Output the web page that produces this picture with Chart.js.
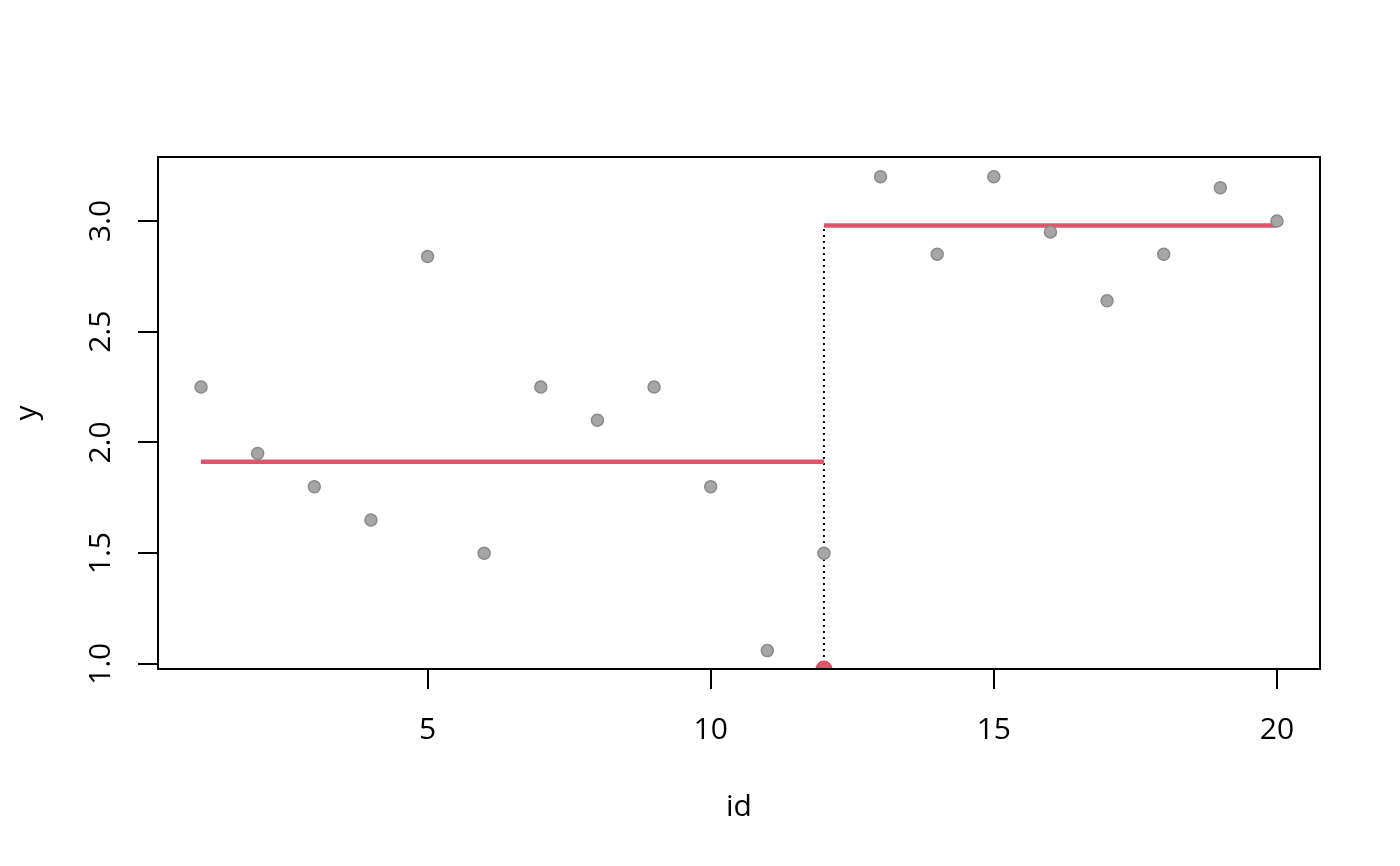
<!DOCTYPE html>
<html>
<head>
<meta charset="utf-8">
<script src="https://cdn.jsdelivr.net/npm/chart.js@4"></script>
<style>
  html, body { margin: 0; padding: 0; background: #fff; }
</style>
</head>
<body>
<canvas id="chart" width="1400" height="866"></canvas>
<script>
// observations
var ids = [1, 2, 3, 4, 5, 6, 7, 8, 9, 10, 11, 12, 13, 14, 15, 16, 17, 18, 19, 20];
var yValues = [2.25, 1.95, 1.80, 1.65, 2.84, 1.50, 2.25, 2.10, 2.25, 1.80,
               1.06, 1.50, 3.20, 2.85, 3.20, 2.95, 2.64, 2.85, 3.15, 3.00];

// fitted segments and change point
var changePoint = 12;
var segmentStarts = [1, 12];
var segmentEnds = [12, 20];
var segmentMeans = [1.9125, 2.98];

var xTicks = [5, 10, 15, 20];
var yTicks = [1.0, 1.5, 2.0, 2.5, 3.0];
var xRange = [0.24, 20.76];
var yRange = [0.977, 3.289];

var red = '#DF536B';
var font = '"Open Sans", "Noto Sans", sans-serif';

var points = ids.map(function(id, i) { return {x: id, y: yValues[i]}; });

var segmentSets = segmentMeans.map(function(m, i) {
  return {
    type: 'line',
    data: [{x: segmentStarts[i], y: m}, {x: segmentEnds[i], y: m}],
    borderColor: red,
    borderWidth: 4.5,
    pointRadius: 0,
    fill: false
  };
});

var rLabels = {
  id: 'rLabels',
  afterDraw: function(chart) {
    var ctx = chart.ctx;
    var xs = chart.scales.x;
    var ys = chart.scales.y;
    var area = chart.chartArea;
    ctx.save();
    ctx.strokeStyle = '#000';
    ctx.lineWidth = 2;
    ctx.strokeRect(area.left, area.top, area.right - area.left, area.bottom - area.top);

    ctx.fillStyle = '#000';
    ctx.font = '30px ' + font;
    ctx.textAlign = 'center';
    ctx.textBaseline = 'alphabetic';
    xTicks.forEach(function(t) {
      ctx.fillText(String(t), xs.getPixelForValue(t), 739);
    });
    yTicks.forEach(function(t) {
      ctx.save();
      ctx.translate(110, ys.getPixelForValue(t));
      ctx.rotate(-Math.PI / 2);
      ctx.fillText(t.toFixed(1), 0, 0);
      ctx.restore();
    });

    ctx.fillText('id', (area.left + area.right) / 2, 816);
    ctx.save();
    ctx.translate(36, (area.top + area.bottom) / 2);
    ctx.rotate(-Math.PI / 2);
    ctx.fillText('y', 0, 0);
    ctx.restore();
    ctx.restore();
  }
};

new Chart(document.getElementById('chart'), {
  type: 'scatter',
  data: {
    datasets: [
      {
        data: points,
        backgroundColor: '#A6A6A6',
        borderColor: '#8A8A8A',
        borderWidth: 1.5,
        pointRadius: 6,
        pointHoverRadius: 6
      },
      {
        data: [{x: changePoint, y: yRange[0]}],
        backgroundColor: red,
        borderColor: red,
        borderWidth: 0,
        pointRadius: 8.5,
        clip: 0
      },
      segmentSets[0],
      segmentSets[1],
      {
        type: 'line',
        data: [{x: changePoint, y: yRange[0]}, {x: changePoint, y: segmentMeans[1]}],
        borderColor: '#000',
        borderWidth: 2,
        borderDash: [2, 4],
        pointRadius: 0,
        fill: false
      }
    ]
  },
  options: {
    responsive: false,
    animation: false,
    devicePixelRatio: 1,
    layout: { padding: { left: 0, top: 157, right: 80, bottom: 0 } },
    plugins: { legend: { display: false }, tooltip: { enabled: false } },
    scales: {
      x: {
        type: 'linear',
        min: xRange[0],
        max: xRange[1],
        afterBuildTicks: function(scale) {
          scale.ticks = xTicks.map(function(v) { return {value: v}; });
        },
        afterFit: function(scale) { scale.height = 197; },
        ticks: { display: false },
        grid: { drawOnChartArea: false, drawTicks: true, tickLength: 20, color: '#000', lineWidth: 2 },
        border: { display: true, color: '#000', width: 2 }
      },
      y: {
        type: 'linear',
        min: yRange[0],
        max: yRange[1],
        afterBuildTicks: function(scale) {
          scale.ticks = yTicks.map(function(v) { return {value: v}; });
        },
        afterFit: function(scale) { scale.width = 158; },
        ticks: { display: false },
        grid: { drawOnChartArea: false, drawTicks: true, tickLength: 20, color: '#000', lineWidth: 2 },
        border: { display: true, color: '#000', width: 2 }
      }
    }
  },
  plugins: [rLabels]
});
</script>
</body>
</html>
